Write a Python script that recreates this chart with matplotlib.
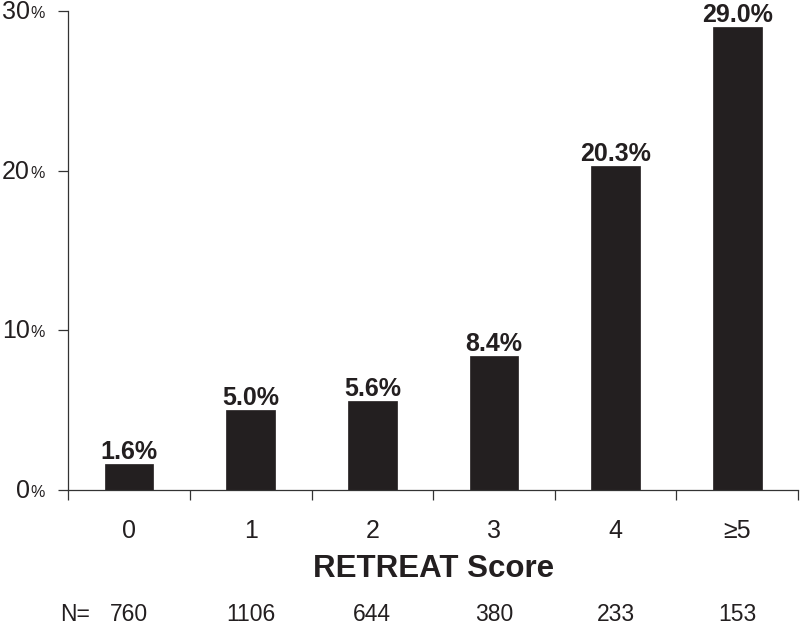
import matplotlib
matplotlib.use("Agg")
import matplotlib.pyplot as plt
import matplotlib.transforms as mtransforms

plt.rcParams['font.family'] = ['Liberation Sans', 'DejaVu Sans']

categories = ["0", "1", "2", "3", "4", "\u22655"]
rates = [1.6, 5.0, 5.6, 8.4, 20.3, 29.0]
counts = [760, 1106, 644, 380, 233, 153]
yticks = [0, 10, 20, 30]

INK = '#231f20'
LINE = '#333333'

fig = plt.figure(figsize=(8, 6.25), dpi=100)
ax = fig.add_axes([68.3 / 800, (625 - 490) / 625, (798 - 68.3) / 800, (490 - 11) / 625])

x = list(range(len(categories)))
ax.bar(x, rates, width=0.4, color=INK, edgecolor=INK, linewidth=0.5, zorder=2)

ax.set_xlim(-0.5, len(categories) - 0.5)
ax.set_ylim(0, 30)

for s in ['top', 'right']:
    ax.spines[s].set_visible(False)
for s in ['left', 'bottom']:
    ax.spines[s].set_color(LINE)
    ax.spines[s].set_linewidth(0.9)

# x ticks: boundaries (minor) with marks, categories (major) with labels only
ax.set_xticks(x)
ax.set_xticklabels(categories, fontsize=18, color=INK)
ax.set_xticks([i - 0.5 for i in range(len(categories) + 1)], minor=True)
ax.tick_params(axis='x', which='major', length=0, pad=21)
ax.tick_params(axis='x', which='minor', length=7.2, width=0.9, color=LINE, direction='out')

# y ticks with custom labels (number + small %)
ax.set_yticks(yticks)
ax.set_yticklabels([''] * len(yticks))
ax.tick_params(axis='y', which='major', length=7.2, width=0.9, color=LINE, direction='out')

ytrans = ax.get_yaxis_transform()
for t in yticks:
    tr_num = mtransforms.offset_copy(ytrans, fig=fig, x=-38.5 * 0.72, y=-8 * 0.72, units='points')
    ax.text(0, t, str(t), transform=tr_num, ha='right', va='baseline', fontsize=18, color=INK)
    tr_pct = mtransforms.offset_copy(ytrans, fig=fig, x=-37.5 * 0.72, y=-7 * 0.72, units='points')
    ax.text(0, t, '%', transform=tr_pct, ha='left', va='baseline', fontsize=11.5, color=INK)

# bar value labels
for xi, v in zip(x, rates):
    tr = mtransforms.offset_copy(ax.transData, fig=fig, x=0, y=3.6, units='points')
    ax.text(xi, v, f"{v:.1f}%", transform=tr, ha='center', va='baseline',
            fontsize=18, fontweight='bold', color=INK)

# x axis title
btrans = mtransforms.blended_transform_factory(ax.transData, fig.transFigure)
ax.text(2.5, (625 - 577) / 625, "RETREAT Score", transform=btrans, ha='center', va='baseline',
        fontsize=22.5, fontweight='bold', color=INK)

# N row
ny = (625 - 621) / 625
fig.text(60 / 800, ny, "N=", ha='left', va='baseline', fontsize=16.5, color=INK)
for xi, n in zip(x, counts):
    ax.text(xi, ny, str(n), transform=btrans, ha='center', va='baseline', fontsize=16.5, color=INK)

fig.savefig("out.png", dpi=100)
